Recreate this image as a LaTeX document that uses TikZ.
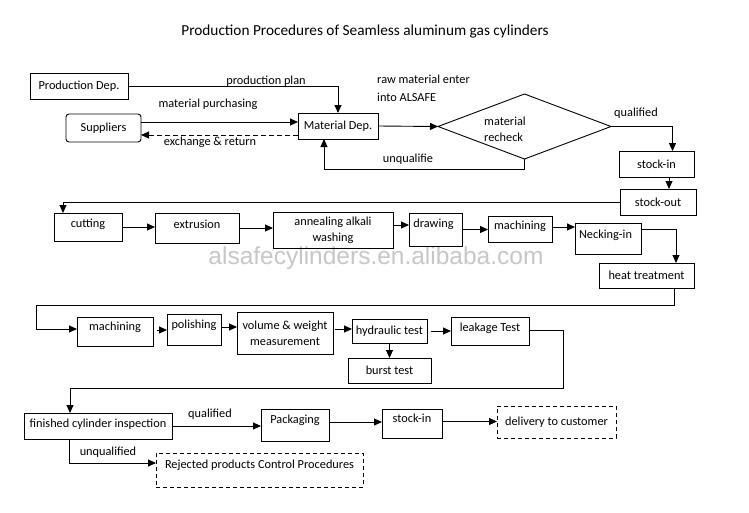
\documentclass[tikz,border=0pt]{standalone}
\usepackage{fontspec}
\setmainfont{Carlito}
\newfontfamily\wmfont{Liberation Sans}
\usetikzlibrary{arrows.meta,shapes.geometric}
\newcommand\rz[2]{\raisebox{#1}[\height][\depth]{#2}}
\begin{document}
\begin{tikzpicture}[x=1pt,y=-1pt,
  font=\fontsize{12.3}{15}\selectfont,
  box/.style={draw, line width=0.9pt, inner sep=0pt, outer sep=0pt, align=center},
  dbox/.style={box, dash pattern=on 4pt off 3pt},
  arr/.style={draw, line width=0.9pt, -{Triangle[length=8pt,width=7pt]}},
  lbl/.style={inner sep=0pt}]
\useasboundingbox (0,0) rectangle (749,512);
\fill[white] (0,0) rectangle (749,512);

% watermark
\node[lbl, text=black!22, font=\wmfont\fontsize{24.5}{25}\selectfont] (wm) at (376,258) {alsafecylinders.en.alibaba.com};

% title
\node[lbl, font=\fontsize{15.3}{18}\selectfont] (title) at (365,31) {Production Procedures of Seamless aluminum gas cylinders};

% top section
\node[box, minimum width=98pt, minimum height=26pt] (prod) at (79,86) {Production Dep.};
\node[box, rounded corners=3pt, minimum width=75pt, minimum height=28pt] (supp) at (103.5,128) {Suppliers};
\node[box, minimum width=80pt, minimum height=26pt] (mat) at (338,126) {Material Dep.};
\node[draw, diamond, aspect=2.66, line width=0.9pt, inner sep=0pt, outer sep=0pt, minimum width=173pt, minimum height=65pt] (dia) at (524.5,126.5) {};
\node[lbl, align=left, font=\fontsize{12.3}{16}\selectfont] (rc) at (505,129) {material\\recheck};
\node[box, minimum width=75pt, minimum height=26pt] (si1) at (656.5,164) {stock-in};
\node[box, minimum width=76pt, minimum height=26pt] (so) at (658,202) {stock-out};

% row 2
\node[box, minimum width=68pt, minimum height=28pt] (cut) at (88,227) {\rz{3pt}{cutting}};
\node[box, minimum width=84pt, minimum height=30pt] (ext) at (197,228) {\rz{4pt}{extrusion}};
\node[box, minimum width=120pt, minimum height=36pt, font=\fontsize{12.3}{16}\selectfont] (ann) at (333,230) {annealing alkali\\washing};
\node[box, minimum width=53pt, minimum height=33pt] (drw) at (435.5,229.5) {\rz{5pt}{drawing}\hspace{4pt}};
\node[box, minimum width=64pt, minimum height=26pt] (mc1) at (520,229) {\rz{3pt}{machining}};
\node[box, minimum width=66pt, minimum height=31pt] (nck) at (608,238.5) {\rz{3.5pt}{Necking-in}\hspace{5pt}};
\node[box, minimum width=95pt, minimum height=25pt] (heat) at (646.5,275.5) {heat treatment};

% row 3
\node[box, minimum width=76pt, minimum height=29pt] (mc2) at (115,331.5) {\rz{4pt}{machining}};
\node[box, minimum width=54pt, minimum height=31pt] (pol) at (194,329.5) {\rz{4.5pt}{polishing}};
\node[box, minimum width=96pt, minimum height=42pt, font=\fontsize{12.3}{16}\selectfont] (vol) at (285,333) {volume \& weight\\measurement};
\node[box, minimum width=75pt, minimum height=24pt] (hyd) at (389.5,331) {hydraulic test};
\node[box, minimum width=78pt, minimum height=28pt] (leak) at (490,331) {\rz{3pt}{leakage Test}};
\node[box, minimum width=83pt, minimum height=25pt] (bst) at (389.5,370.5) {burst test};

% row 4
\node[box, minimum width=148pt, minimum height=26pt] (fin) at (98,426) {\rz{2pt}{finished cylinder inspection}};
\node[box, minimum width=68pt, minimum height=32pt] (pack) at (295,425) {\rz{5pt}{Packaging}};
\node[box, minimum width=60pt, minimum height=29pt] (si2) at (412,423.5) {\rz{5pt}{stock-in}};
\node[dbox, minimum width=119pt, minimum height=32pt] (dlv) at (556.5,422) {delivery to customer};
\node[dbox, minimum width=207pt, minimum height=34pt] (rej) at (259.5,470) {\rz{5pt}{Rejected products Control Procedures}};

% labels
\node[lbl] (lpp) at (266,81) {production plan};
\node[lbl] (lmp) at (208,104) {material purchasing};
\node[lbl] (ler) at (210,142) {exchange \& return};
\node[lbl, anchor=west, align=left, font=\fontsize{12.3}{18}\selectfont] (lraw) at (377,88) {raw material enter\\into ALSAFE};
\node[lbl] (lq1) at (636,113) {qualified};
\node[lbl] (luq1) at (408,159) {unqualifie};
\node[lbl] (lq2) at (210,414) {qualified};
\node[lbl] (luq2) at (108,452) {unqualified};

% connectors top
\draw[arr] (prod.east) -| (mat.north);
\path ([yshift=6pt]supp.east) coordinate (mp);
\draw[arr] (mp) -- (mp -| mat.west);
\path ([yshift=-7pt]supp.east) coordinate (er);
\draw[arr, dash pattern=on 5pt off 3pt] (er -| mat.west) -- (er);
\draw[arr] (mat.east) -- (dia.west);
\draw[arr] (dia.east) -| ([xshift=16pt]si1.north);
\draw[arr] (dia.south) -- ++(0,10) -| ([xshift=-14pt]mat.south);
\path ([xshift=12.5pt]si1.south) coordinate (s1s);
\draw[arr] (s1s) -- (s1s |- so.north);
\draw[arr] (so.west) -| ([xshift=-25pt]cut.north);

% row 2
\draw[arr] (cut.east) -- (cut.east -| ext.west);
\draw[arr] (ext.east) -- (ext.east -| ann.west);
\path ([yshift=5pt]ann.east) coordinate (ae);
\draw[arr] (ae) -- (ae -| drw.west);
\draw[arr] (drw.east) -- (drw.east -| mc1.west);
\path ([yshift=2pt]mc1.east) coordinate (me);
\draw[arr] (me) -- (me -| nck.west);
\draw[arr] ([yshift=9pt]nck.east) -| ([xshift=29.5pt]heat.north);

% heat -> machining
\coordinate (hm) at (36,305);
\draw[arr] ([xshift=27.5pt]heat.south) -- ++(0,17) -- (hm) |- ([yshift=2.5pt]mc2.west);

% row 3
\path ([yshift=1.5pt]mc2.east) coordinate (m2e);
\draw[arr] ([xshift=4pt]m2e) -- (m2e -| pol.west);
\path ([yshift=2.5pt]pol.east) coordinate (pe);
\draw[arr] (pe) -- (pe -| vol.west);
\path ([yshift=4pt]vol.east) coordinate (ve);
\draw[arr] ([xshift=2pt]ve) -- (ve -| hyd.west);
\draw[arr] ([xshift=4pt]hyd.east) -- (hyd.east -| leak.west);
\draw[arr] (hyd.south) -- (hyd.south |- bst.north);
\draw[arr] ([yshift=1pt]leak.east) -- ++(34,0) -- ++(0,58) -| ([xshift=-28pt]fin.north);

% row 4
\draw[arr] (fin.east) -- (fin.east -| pack.west);
\path ([yshift=3pt]pack.east) coordinate (pke);
\draw[arr] (pke) -- (pke -| si2.west);
\path ([yshift=2pt]si2.east) coordinate (s2e);
\draw[arr] (s2e) -- (s2e -| dlv.west);
\draw[arr] ([xshift=-29pt]fin.south) |- ([yshift=7pt]rej.west);
\end{tikzpicture}
\end{document}
